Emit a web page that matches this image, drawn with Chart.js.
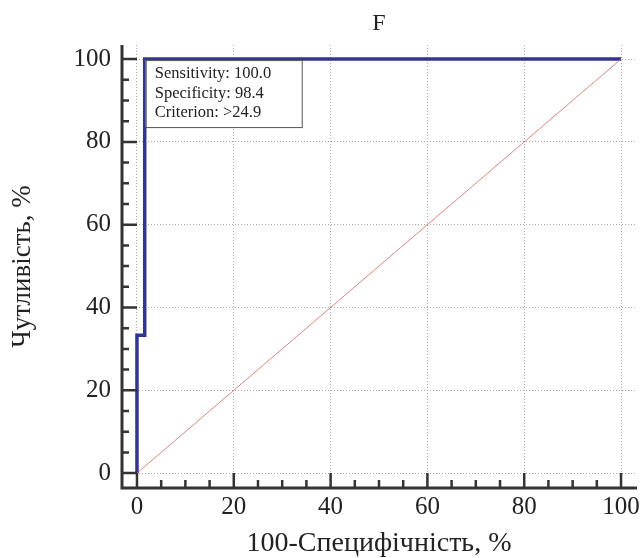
<!DOCTYPE html>
<html>
<head>
<meta charset="utf-8">
<script src="https://cdn.jsdelivr.net/npm/chart.js@4"></script>
<style>
    body { margin: 0; background: #fff; }
    #wrap { width: 644px; height: 558px; }
</style>
</head>
<body>
<div id="wrap"><canvas id="rocChart" width="644" height="558"></canvas></div>
<script>
// ROC data (100-specificity, sensitivity)
const rocX = [0, 0, 1.6, 1.6, 100];
const rocY = [0, 33.3, 33.3, 100, 100];
const diagX = [0, 100];
const diagY = [0, 100];
const majorTicks = [0, 20, 40, 60, 80, 100];
const minorTicks = [5, 10, 15, 25, 30, 35, 45, 50, 55, 65, 70, 75, 85, 90, 95];
const infoLines = ["Sensitivity: 100.0", "Specificity: 98.4", "Criterion: >24.9"];

const serif = "'Liberation Serif', 'DejaVu Serif', serif";

// offset axes with inward ticks, like MedCalc
const axesPlugin = {
    id: 'offsetAxes',
    afterDraw(chart) {
        const ctx = chart.ctx;
        const xs = chart.scales.x, ys = chart.scales.y;
        const a = chart.chartArea;
        ctx.save();
        ctx.strokeStyle = '#333';
        ctx.lineWidth = 3;
        ctx.beginPath();
        ctx.moveTo(a.left + 1, a.top);
        ctx.lineTo(a.left + 1, a.bottom);
        ctx.lineTo(a.right, a.bottom);
        ctx.stroke();

        ctx.lineWidth = 2.5;
        ctx.beginPath();
        majorTicks.forEach(v => {
            const px = xs.getPixelForValue(v);
            ctx.moveTo(px, a.bottom); ctx.lineTo(px, a.bottom - 15);
            const py = ys.getPixelForValue(v);
            ctx.moveTo(a.left, py); ctx.lineTo(a.left + 16, py);
        });
        minorTicks.forEach(v => {
            const px = xs.getPixelForValue(v);
            ctx.moveTo(px, a.bottom); ctx.lineTo(px, a.bottom - 8);
            const py = ys.getPixelForValue(v);
            ctx.moveTo(a.left, py); ctx.lineTo(a.left + 8, py);
        });
        ctx.stroke();
        ctx.restore();
    }
};

// info box with the optimal cut-off
const infoPlugin = {
    id: 'infoBox',
    afterDatasetsDraw(chart) {
        const ctx = chart.ctx;
        const left = chart.scales.x.getPixelForValue(rocX[2]) + 1;
        const top = chart.scales.y.getPixelForValue(100) + 1;
        ctx.save();
        ctx.fillStyle = '#fff';
        ctx.strokeStyle = '#555';
        ctx.lineWidth = 1;
        ctx.fillRect(left, top, 156, 67);
        ctx.strokeRect(left + 0.5, top + 0.5, 156, 67);
        ctx.fillStyle = '#222';
        ctx.font = "16.5px " + serif;
        ctx.textBaseline = 'middle';
        infoLines.forEach((t, i) => ctx.fillText(t, left + 9, top + 14 + i * 19.5));
        ctx.restore();
    }
};

function majorsOnly(scale) {
    scale.ticks = majorTicks.map(v => ({ value: v }));
}

const ctx = document.getElementById('rocChart').getContext('2d');
new Chart(ctx, {
    type: 'scatter',
    data: {
        datasets: [
            {
                data: diagX.map((x, i) => ({ x: x, y: diagY[i] })),
                showLine: true,
                borderColor: 'rgba(205, 92, 92, 0.75)',
                borderWidth: 1,
                pointRadius: 0
            },
            {
                data: rocX.map((x, i) => ({ x: x, y: rocY[i] })),
                showLine: true,
                borderColor: 'rgb(52, 52, 150)',
                borderWidth: 3.5,
                pointRadius: 0,
                tension: 0
            }
        ]
    },
    options: {
        responsive: false,
        animation: false,
        layout: { padding: { right: 6 } },
        plugins: {
            legend: { display: false },
            tooltip: { enabled: false },
            title: {
                display: true,
                fullSize: false,
                text: 'F',
                color: '#222',
                font: { family: serif, size: 24, weight: 'normal', lineHeight: 1.2 },
                padding: { top: 9, bottom: 7.2 }
            }
        },
        scales: {
            x: {
                type: 'linear',
                min: -3.3,
                max: 103.3,
                afterBuildTicks: majorsOnly,
                afterFit: s => { s.height = 70; },
                border: { display: false, dash: [1, 2] },
                grid: { color: '#aaa', lineWidth: 1, drawTicks: false },
                ticks: { color: '#222', padding: 4, maxRotation: 0, font: { family: serif, size: 25 } },
                title: {
                    display: true,
                    text: '100-Специфічність, %',
                    color: '#222',
                    font: { family: serif, size: 28, lineHeight: 1.2 },
                    padding: { top: 0, bottom: -2 }
                }
            },
            y: {
                type: 'linear',
                min: -3.6,
                max: 103.4,
                afterBuildTicks: majorsOnly,
                afterFit: s => { s.width = 121; },
                border: { display: false, dash: [1, 2] },
                grid: { color: '#aaa', lineWidth: 1, drawTicks: false },
                ticks: { color: '#222', padding: 10, font: { family: serif, size: 25 } },
                title: {
                    display: true,
                    text: 'Чутливість, %',
                    color: '#222',
                    font: { family: serif, size: 27, lineHeight: 1.2 },
                    padding: { top: 7, bottom: 0 }
                }
            }
        }
    },
    plugins: [axesPlugin, infoPlugin]
});
</script>
</body>
</html>
